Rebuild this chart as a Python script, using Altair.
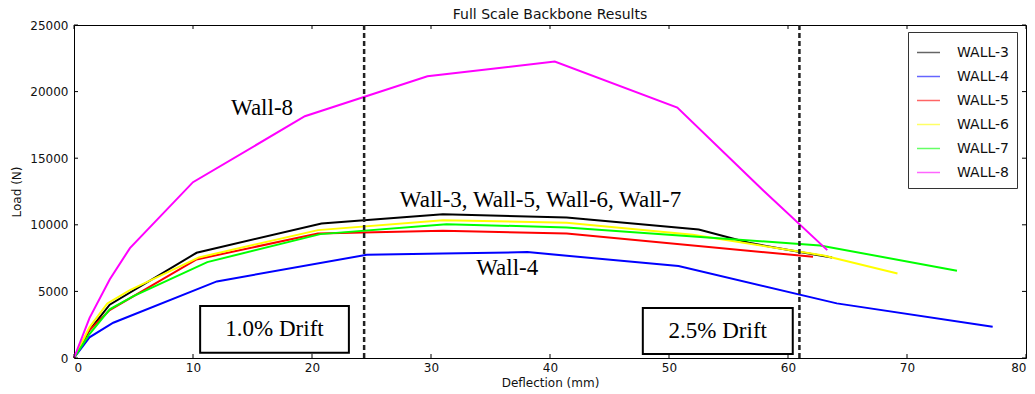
import altair as alt
import pandas as pd

# ---- data ----
series_names = ["WALL-3", "WALL-4", "WALL-5", "WALL-6", "WALL-7", "WALL-8"]
series_colors = ["#000000", "#0000ff", "#ff0000", "#ffff00", "#00ff00", "#ff00ff"]

w3_x = [0, 1.3, 3.0, 10.3, 20.8, 31.0, 41.4, 52.5, 56.7, 61.0, 63.7]
w3_y = [0, 2100, 4000, 7900, 10100, 10800, 10550, 9650, 8650, 7950, 7550]

w4_x = [0, 1.3, 3.3, 12.0, 24.6, 31.0, 38.1, 50.8, 64.1, 77.2]
w4_y = [0, 1550, 2650, 5750, 7750, 7850, 7950, 6900, 4100, 2350]

w5_x = [0, 1.2, 3.0, 10.3, 20.5, 31.0, 41.4, 62.1]
w5_y = [0, 2000, 3600, 7400, 9350, 9550, 9350, 7600]

w6_x = [0, 1.3, 2.8, 4.7, 10.5, 20.5, 31.0, 41.4, 52.0, 63.0, 69.2]
w6_y = [0, 2300, 4100, 5100, 7550, 9600, 10350, 10150, 9250, 7700, 6350]

w7_x = [0, 1.3, 3.0, 5.0, 11.2, 20.7, 31.3, 41.4, 62.7, 74.2]
w7_y = [0, 1800, 3650, 4650, 7200, 9300, 10050, 9800, 8450, 6550]

w8_x = [0, 1.3, 3.0, 4.7, 10.0, 19.4, 29.7, 40.4, 50.7, 57.9, 63.3]
w8_y = [0, 3000, 5900, 8250, 13200, 18150, 21150, 22250, 18800, 12600, 8100]

all_x = [w3_x, w4_x, w5_x, w6_x, w7_x, w8_x]
all_y = [w3_y, w4_y, w5_y, w6_y, w7_y, w8_y]

drift_x = [24.38, 60.96]

x_ticks = [0, 10, 20, 30, 40, 50, 60, 70, 80]
y_ticks = [0, 5000, 10000, 15000, 20000, 25000]

label_text = ["Wall-8", "Wall-3, Wall-5, Wall-6, Wall-7", "Wall-4"]
label_x = [15.8, 39.2, 36.4]
label_y = [18800, 11850, 6750]

box_text = ["1.0% Drift", "2.5% Drift"]
box_x1 = [10.6, 47.8]
box_x2 = [23.1, 60.4]
box_y1 = [3900, 3750]
box_y2 = [400, 300]

# ---- tables ----
rows = []
for name, xs, ys in zip(series_names, all_x, all_y):
    for i, (xv, yv) in enumerate(zip(xs, ys)):
        rows.append({"series": name, "x": xv, "y": yv, "idx": i})
df = pd.DataFrame(rows)
drift_df = pd.DataFrame({"x": drift_x})
lab_df = pd.DataFrame({"t": label_text, "x": label_x, "y": label_y})
box_df = pd.DataFrame({"t": box_text, "x1": box_x1, "x2": box_x2, "y1": box_y1, "y2": box_y2,
                       "xc": [(a + b) / 2 for a, b in zip(box_x1, box_x2)],
                       "yc": [(a + b) / 2 for a, b in zip(box_y1, box_y2)]})
xt_df = pd.DataFrame({"v": x_ticks})
yt_df = pd.DataFrame({"v": y_ticks})

W, H = 952, 333
xs = alt.Scale(domain=[0, 80], nice=False)
ys = alt.Scale(domain=[0, 25000], nice=False)

X = alt.X("x:Q", scale=xs, axis=alt.Axis(values=x_ticks, format="d", title="Deflection (mm)"))
Y = alt.Y("y:Q", scale=ys, axis=alt.Axis(values=y_ticks, format="d", title="Load (N)"))

lines = alt.Chart(df).mark_line(strokeWidth=2).encode(
    x=X, y=Y,
    color=alt.Color("series:N",
                    scale=alt.Scale(domain=series_names, range=series_colors),
                    legend=alt.Legend(title=None, orient="none", legendX=834, legendY=7,
                                      symbolType="stroke", symbolSize=529,
                                      symbolStrokeWidth=1.5, symbolOpacity=0.6,
                                      labelFontSize=14, labelFont="DejaVu Sans",
                                      labelColor="#111", labelOffset=16,
                                      rowPadding=4, padding=8,
                                      strokeColor="#333", fillColor="white")),
    order="idx:Q",
)

drift = alt.Chart(drift_df).mark_rule(color="#222", strokeWidth=2.5, strokeDash=[5, 3]).encode(
    x=alt.X("x:Q", scale=xs)
)

boxes = alt.Chart(box_df).mark_rect(fill="white", stroke="black", strokeWidth=2).encode(
    x=alt.X("x1:Q", scale=xs), x2="x2:Q",
    y=alt.Y("y1:Q", scale=ys), y2="y2:Q",
)
box_txt = alt.Chart(box_df).mark_text(font="Liberation Serif", fontSize=23, color="black").encode(
    x=alt.X("xc:Q", scale=xs), y=alt.Y("yc:Q", scale=ys), text="t:N"
)
labels = alt.Chart(lab_df).mark_text(font="Liberation Serif", fontSize=23, color="black").encode(
    x=alt.X("x:Q", scale=xs), y=alt.Y("y:Q", scale=ys), text="t:N"
)

tick_style = dict(color="black", strokeWidth=1)
xt_bot = alt.Chart(xt_df).mark_rule(**tick_style).encode(
    x=alt.X("v:Q", scale=xs), y=alt.value(H), y2=alt.value(H - 4))
xt_top = alt.Chart(xt_df).mark_rule(**tick_style).encode(
    x=alt.X("v:Q", scale=xs), y=alt.value(0), y2=alt.value(4))
yt_left = alt.Chart(yt_df).mark_rule(**tick_style).encode(
    y=alt.Y("v:Q", scale=ys), x=alt.value(0), x2=alt.value(4))
yt_right = alt.Chart(yt_df).mark_rule(**tick_style).encode(
    y=alt.Y("v:Q", scale=ys), x=alt.value(W), x2=alt.value(W - 4))

chart = alt.layer(
    lines, drift, boxes, box_txt, labels, xt_bot, xt_top, yt_left, yt_right
).properties(
    width=W, height=H,
    title=alt.Title("Full Scale Backbone Results", font="DejaVu Sans", fontSize=14,
                    fontWeight="normal", color="#111", offset=-3),
    autosize=alt.AutoSizeParams(type="none"),
    padding={"left": 74, "top": 25, "right": 9, "bottom": 36},
).configure_view(
    stroke="black", strokeWidth=1
).configure_axis(
    grid=False, domain=False, tickSize=0,
    labelFont="DejaVu Sans", labelFontSize=12, labelColor="#111",
    titleFont="DejaVu Sans", titleFontSize=12, titleFontWeight="normal", titleColor="#111",
).configure_axisX(
    labelPadding=4, titlePadding=4
).configure_axisY(
    labelPadding=6, titlePadding=6
)

chart.save("out.html", embed_options={"renderer": "svg", "actions": False})
